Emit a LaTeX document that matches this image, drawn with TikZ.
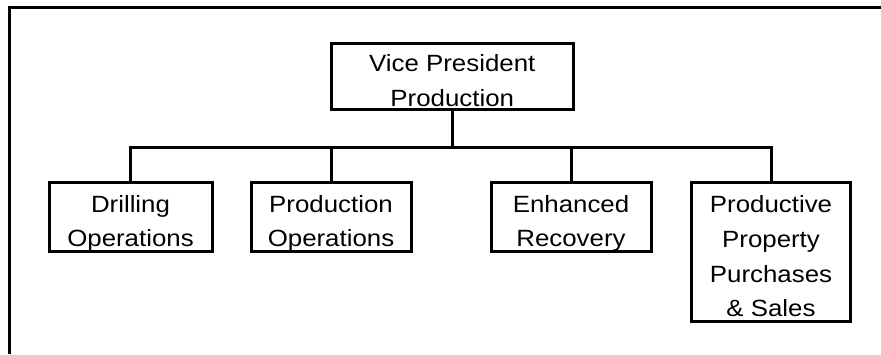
\documentclass[tikz,border=0pt]{standalone}
\usepackage{fontspec}
\setmainfont{Liberation Sans}[FakeStretch=1.1]
\begin{document}
\begin{tikzpicture}[x=1pt,y=-1pt,
  line join=miter,
  frameline/.style={line width=3pt},
  unitbox/.style={draw, line width=3pt, rectangle, inner sep=0pt, outer sep=0pt},
  conn/.style={line width=3pt},
  caption/.style={align=center, inner sep=0pt, anchor=base,
    font=\fontsize{23.5}{34.6}\selectfont}]
  \useasboundingbox (0,0) rectangle (881,354);

  % page frame: top and left edges only
  \draw[frameline] (9,354) -- (9,7) -- (881,7);

  % boxes
  \node[unitbox, minimum width=241.5pt, minimum height=66pt] (vp) at (452.25,76.5) {};
  \node[unitbox, minimum width=163pt, minimum height=69pt] (drill) at (130.5,217) {};
  \node[unitbox, minimum width=160pt, minimum height=69pt] (pops) at (331,217) {};
  \node[unitbox, minimum width=160pt, minimum height=69pt] (enh) at (571,217) {};
  \node[unitbox, minimum width=159pt, minimum height=138.5pt] (prop) at (771,251.75) {};

  % box texts (base anchor sits on the last line)
  \node[caption] (vpText) at (452.25,106) {Vice President\\Production};
  \node[caption] (drillText) at (130.5,246.7) {Drilling\\Operations};
  \node[caption] (popsText) at (331,246.7) {Production\\Operations};
  \node[caption] (enhText) at (571,246.7) {Enhanced\\Recovery};
  \node[caption] (propText) at (771,316.7) {Productive\\Property\\Purchases\\\& Sales};

  % connectors
  \coordinate (hub) at (452.25,147.3);
  \draw[conn] (vp.south) -- (hub);
  \draw[conn] (drill.north) |- (hub) -| (prop.north);
  \draw[conn] (pops.north) -- (pops.north |- hub);
  \draw[conn] (enh.north) -- (enh.north |- hub);
\end{tikzpicture}
\end{document}
